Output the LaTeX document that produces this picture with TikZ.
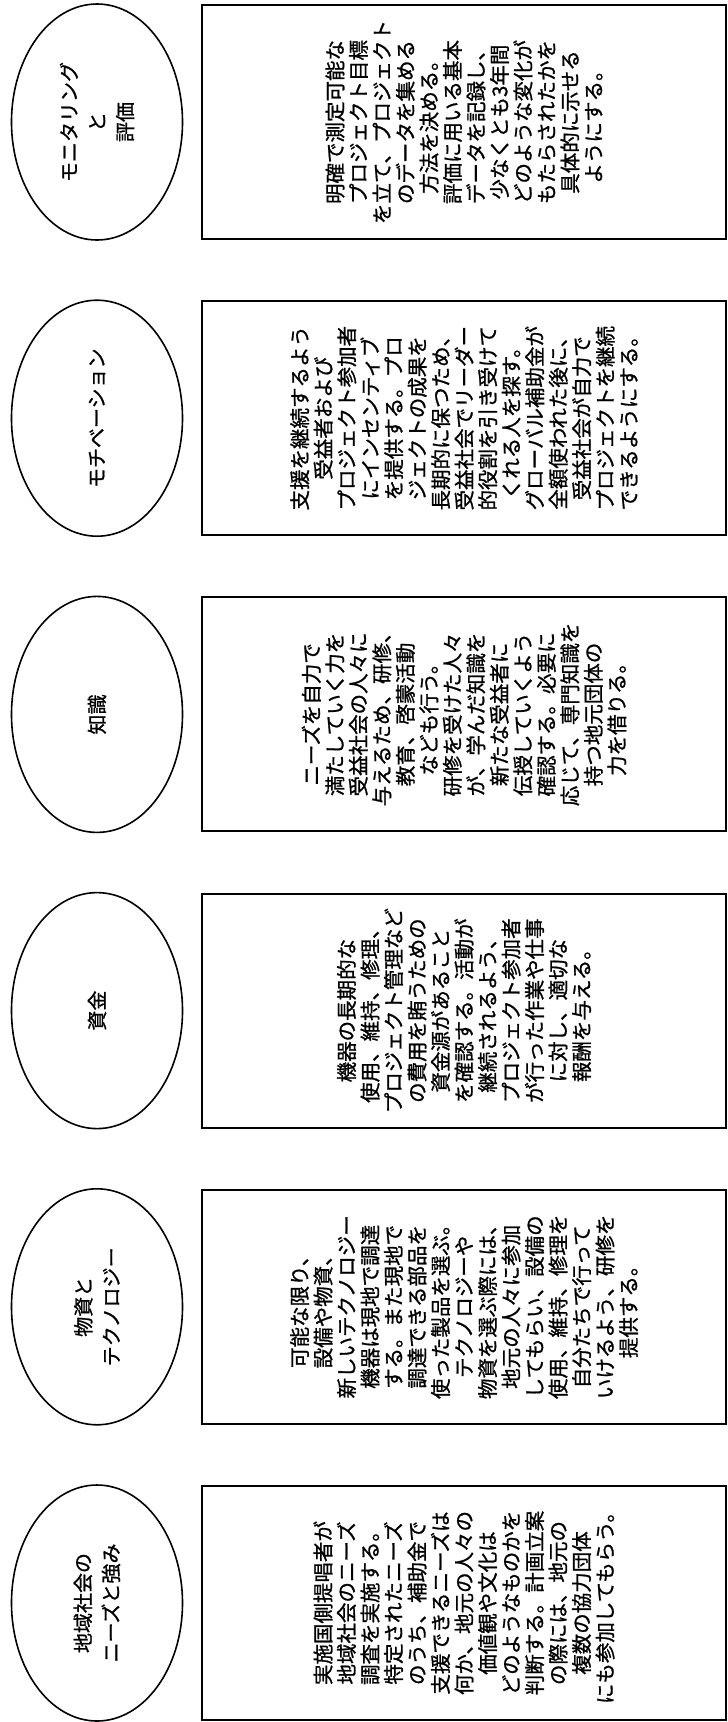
\documentclass[tikz,border=0pt]{standalone}
\usepackage{fontspec}
\usepackage{tikz}
\usetikzlibrary{shapes.geometric}
\usetikzlibrary{positioning}
\newfontfamily\jpfont[FakeBold=1]{Noto Sans CJK JP}
\tikzset{
    node distance=296.2pt, % Distance between two rows
    topic/.style={ % Oval that holds the heading
        ellipse,
        draw,
        line width=1.6pt,
        minimum width=236pt, % along the text, i.e. upright on the page
        minimum height=171pt,
        inner sep=0pt,
        align=center,
        font=\jpfont\fontsize{20}{28}\selectfont,
        rotate=90
    },
    detail/.style={ % Box that holds the explanation
        rectangle,
        draw,
        line width=2pt,
        minimum width=234pt,
        minimum height=524pt,
        inner sep=0pt,
        align=center,
        font=\jpfont\fontsize{20.5}{23.5}\selectfont,
        rotate=90
    }
}

\begin{document}
\begin{tikzpicture}[x=1pt, y=-1pt]
    \useasboundingbox (0,0) rectangle (728,1722);

    \node[topic] (evaluation) at (97,122) {モニタリング\\と\\評価};
    \node[below of=evaluation, topic] (motivation) {モチベーション};
    \node[below of=motivation, topic] (knowledge) {知識};
    \node[below of=knowledge, topic] (funding) {資金};
    \node[below of=funding, topic] (materials) {物資と\\テクノロジー};
    \node[below of=materials, topic] (needs) {地域社会の\\ニーズと強み};

    % the boxes sit to the right of their ovals
    \node[node distance=367pt, right of=evaluation, detail] (evaluation_text) {明確で測定可能な\\プロジェクト目標\\を立て、プロジェクト\\のデータを集める\\方法を決める。\\評価に用いる基本\\データを記録し、\\少なくとも3年間\\どのような変化が\\もたらされたかを\\具体的に示せる\\ようにする。};
    \node[node distance=367pt, right of=motivation, detail] (motivation_text) {支援を継続するよう\\受益者および\\プロジェクト参加者\\にインセンティブ\\を提供する。プロ\\ジェクトの成果を\\長期的に保つため、\\受益社会でリーダー\\的役割を引き受けて\\くれる人を探す。\\グローバル補助金が\\全額使われた後に、\\受益社会が自力で\\プロジェクトを継続\\できるようにする。};
    \node[node distance=367pt, right of=knowledge, detail] (knowledge_text) {ニーズを自力で\\満たしていく力を\\受益社会の人々に\\与えるため、研修、\\教育、啓蒙活動\\なども行う。\\研修を受けた人々\\が、学んだ知識を\\新たな受益者に\\伝授していくよう\\確認する。必要に\\応じて、専門知識を\\持つ地元団体の\\力を借りる。};
    \node[node distance=367pt, right of=funding, detail] (funding_text) {機器の長期的な\\使用、維持、修理、\\プロジェクト管理など\\の費用を賄うための\\資金源があること\\を確認する。活動が\\継続されるよう、\\プロジェクト参加者\\が行った作業や仕事\\に対し、適切な\\報酬を与える。};
    \node[node distance=367pt, right of=materials, detail] (materials_text) {可能な限り、\\設備や物資、\\新しいテクノロジー\\機器は現地で調達\\する。また現地で\\調達できる部品を\\使った製品を選ぶ。\\テクノロジーや\\物資を選ぶ際には、\\地元の人々に参加\\してもらい、設備の\\使用、維持、修理を\\自分たちで行って\\いけるよう、研修を\\提供する。};
    \node[node distance=367pt, right of=needs, detail] (needs_text) {実施国側提唱者が\\地域社会のニーズ\\調査を実施する。\\特定されたニーズ\\のうち、補助金で\\支援できるニーズは\\何か、地元の人々の\\価値観や文化は\\どのようなものかを\\判断する。計画立案\\の際には、地元の\\複数の協力団体\\にも参加してもらう。};
\end{tikzpicture}
\end{document}
